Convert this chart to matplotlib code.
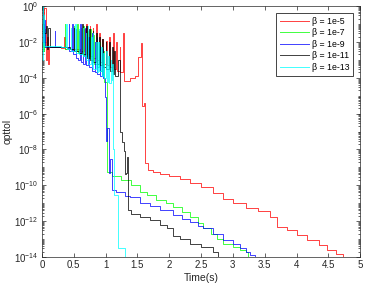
import numpy as np
import matplotlib
matplotlib.use("Agg")
import matplotlib.pyplot as plt
from matplotlib.ticker import FixedLocator, LogLocator, FuncFormatter, NullFormatter

plt.rcParams['font.family'] = ['Liberation Sans', 'DejaVu Sans']
plt.rcParams['mathtext.fontset'] = 'custom'
plt.rcParams['mathtext.rm'] = 'Liberation Sans'
plt.rcParams['mathtext.it'] = 'Liberation Sans:italic'
plt.rcParams['mathtext.bf'] = 'Liberation Sans:bold'
plt.rcParams['axes.unicode_minus'] = False

# ---- data (time in s, opttol) ----
labels = ["β = 1e-5", "β = 1e-7", "β = 1e-9", "β = 1e-11", "β = 1e-13"]

t_red = [0.0, 0.02, 0.04, 0.06, 0.08, 0.10, 0.11, 0.30, 0.34, 0.36, 0.60, 0.66, 0.67, 0.70,
         0.71, 0.75, 0.76, 0.80, 0.81, 0.85, 0.86, 0.90, 0.91, 0.95, 0.96, 1.00, 1.02, 1.06,
         1.07, 1.12, 1.13, 1.17, 1.18, 1.22, 1.23, 1.27, 1.29, 1.38, 1.46, 1.51, 1.56, 1.58,
         1.61, 1.62, 1.67, 1.75, 1.86, 2.00, 2.17, 2.33, 2.50, 2.69, 2.85, 3.00, 3.20, 3.40,
         3.58, 3.69, 3.85, 4.00, 4.17, 4.35, 4.48, 4.62, 4.73]
y_red = [1e0, 3e-2, 8e-1, 1e-3, 2e-2, 6e-4, 5e-3, 4.5e-3, 2e-2, 4e-3, 3e-3, 5e-2, 2.5e-3, 1e-1,
         2e-3, 8e-2, 1.6e-3, 6e-2, 1.3e-3, 1e-1, 1e-3, 3e-2, 8e-4, 1.5e-2, 6e-4, 1.2e-2, 5e-4, 2e-2,
         4e-4, 3e-2, 3e-4, 1e-2, 2.5e-4, 5e-3, 2e-4, 3e-2, 7e-5, 1e-4, 1.3e-4, 1.4e-3, 8.5e-3, 2.5e-6,
         4e-6, 1.8e-9, 7e-10, 5.6e-10, 4.5e-10, 3.5e-10, 2.2e-10, 1.35e-10, 8e-11, 3.7e-11, 1.8e-11, 1e-11, 5.6e-12, 3.5e-12,
         1.6e-12, 5e-13, 3e-13, 1.7e-13, 9e-14, 4.5e-14, 2.5e-14, 1.4e-14, 1e-14]

t_green = [0.0, 0.02, 0.03, 0.05, 0.32, 0.36, 0.37, 0.47, 0.50, 0.51, 0.55, 0.56, 0.61, 0.62,
           0.65, 0.66, 0.71, 0.72, 0.76, 0.77, 0.81, 0.82, 0.86, 0.87, 0.90, 0.91, 0.94, 0.95,
           0.97, 0.98, 1.02, 1.10, 1.25, 1.40, 1.54, 1.65, 1.80, 1.95, 2.06, 2.20, 2.33, 2.45,
           2.53, 2.65, 2.75, 2.85, 3.00, 3.11, 3.20, 3.24]
y_green = [1e0, 3e-3, 5e-2, 5e-3, 5e-3, 1e-1, 4e-3, 4e-3, 8e-2, 3e-3, 1e-1, 2.5e-3, 6e-2, 2e-3,
           8e-2, 1.6e-3, 4e-2, 1.3e-3, 5e-2, 1e-3, 2.5e-2, 6e-4, 2e-2, 4e-4, 1e-2, 2.5e-4, 5e-3, 1.6e-4,
           3e-3, 6e-5, 5.5e-10, 3.2e-10, 2e-10, 1.1e-10, 4.3e-11, 2.8e-11, 1.6e-11, 1e-11, 6.3e-12, 3.2e-12, 1.6e-12, 8e-13,
           4e-13, 1.8e-13, 1e-13, 5e-14, 3.5e-14, 2.5e-14, 1.8e-14, 1e-14]

t_blue = [0.0, 0.01, 0.03, 0.05, 0.20, 0.21, 0.40, 0.42, 0.43, 0.48, 0.49, 0.53, 0.54, 0.57,
          0.60, 0.61, 0.64, 0.65, 0.68, 0.69, 0.73, 0.74, 0.78, 0.79, 0.83, 0.84, 0.86, 0.87,
          0.91, 0.92, 0.95, 0.96, 0.99, 1.00, 1.03, 1.05, 1.07, 1.10, 1.16, 1.30, 1.38, 1.54,
          1.70, 1.85, 2.06, 2.20, 2.33, 2.45, 2.53, 2.69, 2.85, 3.00, 3.11, 3.20, 3.27, 3.35]
y_blue = [1e0, 1e-2, 1.6e-1, 5e-3, 4e-2, 5e-3, 4.5e-3, 1e-1, 3e-3, 1e-1, 2e-3, 5e-2, 1.3e-3, 1e-3,
          1e-1, 8e-4, 3e-2, 6e-4, 6e-2, 5e-4, 2e-2, 4e-4, 3e-2, 2.5e-4, 1e-2, 2e-4, 1.6e-2, 1.6e-4,
          6e-3, 1.3e-4, 4e-3, 1e-4, 8e-6, 3e-8, 1.6e-7, 5e-10, 3e-9, 5.5e-11, 4e-11, 2.5e-11, 2.2e-11, 1e-11,
          7e-12, 4e-12, 2.2e-12, 1.26e-12, 9e-13, 5.6e-13, 4e-13, 2e-13, 9e-14, 5e-14, 3.2e-14, 2e-14, 1.3e-14, 1e-14]

t_black = [0.0, 0.02, 0.04, 0.06, 0.08, 0.10, 0.12, 0.44, 0.50, 0.51, 0.58, 0.59, 0.63, 0.64,
           0.70, 0.71, 0.74, 0.75, 0.80, 0.81, 0.85, 0.86, 0.90, 0.91, 0.95, 0.96, 1.00, 1.01,
           1.06, 1.07, 1.10, 1.11, 1.14, 1.15, 1.20, 1.22, 1.23, 1.26, 1.29, 1.30, 1.32, 1.34,
           1.35, 1.40, 1.54, 1.70, 1.85, 1.96, 2.06, 2.17, 2.33, 2.50, 2.69, 2.77]
y_black = [1e0, 1e-1, 3e-2, 8e-2, 4e-3, 6e-2, 5e-3, 4e-3, 6e-2, 3e-3, 4e-2, 2.5e-3, 1e-1, 2e-3,
           8e-2, 1.3e-3, 5e-2, 1e-3, 4e-2, 8e-4, 3e-2, 6e-4, 2e-2, 5e-4, 1.5e-2, 4e-4, 1e-2, 3e-4,
           1e-2, 2.5e-4, 5e-3, 1.6e-4, 3e-3, 1.3e-4, 1e-3, 4e-5, 1e-7, 2.5e-8, 8e-9, 4e-10, 5e-10, 4e-9,
           4e-12, 2.5e-12, 1.6e-12, 1.1e-12, 6.3e-13, 4e-13, 1.4e-13, 1e-13, 5e-14, 3.5e-14, 2e-14, 1e-14]

t_cyan = [0.0, 0.01, 0.02, 0.04, 0.30, 0.38, 0.39, 0.45, 0.46, 0.52, 0.53, 0.58, 0.59, 0.64,
          0.65, 0.69, 0.70, 0.72, 0.73, 0.77, 0.78, 0.80, 0.81, 0.85, 0.86, 0.88, 0.89, 0.93,
          0.94, 0.96, 0.97, 1.01, 1.02, 1.04, 1.05, 1.08, 1.09, 1.10, 1.12, 1.13, 1.20, 1.30]
y_cyan = [1e0, 1e-3, 3e-1, 6e-3, 5e-3, 1e-1, 4e-3, 6e-2, 3e-3, 1e-1, 2.5e-3, 5e-2, 2e-3, 6e-2,
          1.6e-3, 3e-2, 1e-3, 8e-2, 6e-4, 2e-2, 4e-4, 3e-2, 3e-4, 1e-2, 2e-4, 1e-2, 2.5e-4, 5e-3,
          1.3e-4, 2.5e-3, 1e-4, 3e-3, 6e-5, 1.6e-3, 5e-5, 1e-3, 8e-5, 6e-4, 1e-8, 2.8e-11, 3e-14, 1e-14]

series = [(t_red, y_red, (1, 0, 0)),
          (t_green, y_green, (0, 1, 0)),
          (t_blue, y_blue, (0, 0, 1)),
          (t_black, y_black, (0, 0, 0)),
          (t_cyan, y_cyan, (0, 1, 1))]

x_ticks = [0, 0.5, 1, 1.5, 2, 2.5, 3, 3.5, 4, 4.5, 5]
y_ticks = [1e0, 1e-2, 1e-4, 1e-6, 1e-8, 1e-10, 1e-12, 1e-14]

fig = plt.figure(figsize=(3.74, 2.91), dpi=100)
ax = fig.add_axes([0.112, 0.117, 0.851, 0.862])

for (t, y, c), lab in zip(series, labels):
    ax.plot(t, y, drawstyle='steps-post', color=c, lw=0.7, alpha=0.75, label=lab)

ax.set_yscale('log')
ax.set_xlim(0, 5)
ax.set_ylim(1e-14, 1e0)
ax.xaxis.set_major_locator(FixedLocator(x_ticks))
ax.xaxis.set_major_formatter(FuncFormatter(lambda v, p: '%g' % v))
ax.yaxis.set_major_locator(FixedLocator(y_ticks))
ax.yaxis.set_minor_locator(LogLocator(base=10, subs=np.arange(1, 10), numticks=100))
ax.yaxis.set_minor_formatter(NullFormatter())

axcol = '#262626'
for s in ax.spines.values():
    s.set_color(axcol)
    s.set_linewidth(0.5)
ax.tick_params(which='both', direction='in', top=True, right=True, colors=axcol,
               labelsize=7, width=0.5, pad=2.5)
ax.tick_params(which='major', length=3)
ax.tick_params(which='minor', length=1.6)

ax.set_xlabel('Time(s)', fontsize=7.5, color=axcol, labelpad=2)
ax.set_ylabel('opttol', fontsize=7.5, color=axcol, labelpad=1)

leg = ax.legend(loc='upper right', fontsize=6.3, handlelength=3.3, labelspacing=0.3,
                borderaxespad=0.8, fancybox=False, framealpha=1, handletextpad=0.4,
                borderpad=0.4)
leg.get_frame().set_edgecolor(axcol)
leg.get_frame().set_linewidth(0.6)
for line in leg.get_lines():
    line.set_alpha(0.75)

fig.savefig('out.png', dpi=100)
